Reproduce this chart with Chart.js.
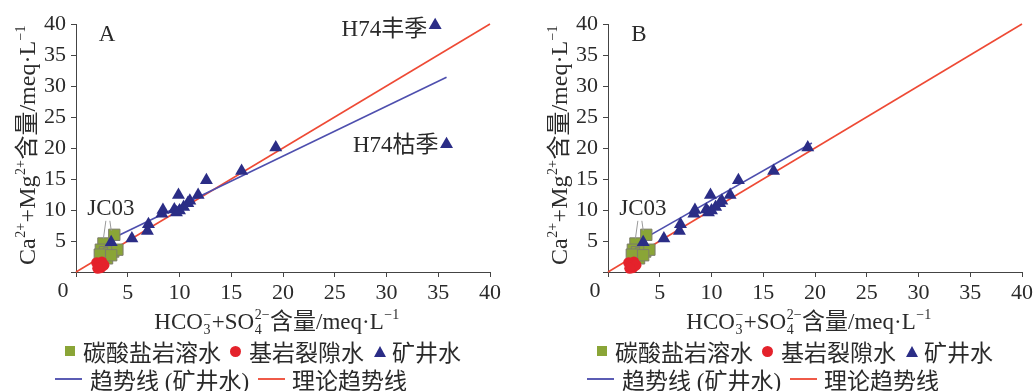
<!DOCTYPE html>
<html>
<head>
<meta charset="utf-8">
<script src="https://cdn.jsdelivr.net/npm/chart.js@4.4.1/dist/chart.umd.min.js"></script>
<style>
  html, body { margin:0; padding:0; background:#fff; }
  body { width:1036px; height:391px; overflow:hidden; position:relative; }
  .panel { position:absolute; top:0; width:520px; height:391px; }
  .panel canvas { position:absolute; left:0; top:0; }
  .row { position:absolute; display:flex; align-items:center; white-space:nowrap;
         font-family:"Liberation Serif","Noto Sans CJK SC",serif; font-size:23px; color:#2a2a2a; height:26px; }
  .sq { width:10px; height:10px; background:#8aa537; display:inline-block; }
  .ci { width:11px; height:11px; border-radius:50%; background:#e4222b; display:inline-block; }
  .tr { width:0; height:0; border-left:6px solid transparent; border-right:6px solid transparent; border-bottom:11px solid #2b2d86; display:inline-block; }
  .ln { width:27px; height:2px; display:inline-block; }
  .cjk { font-family:"Noto Sans CJK SC",sans-serif; }
</style>
</head>
<body>
<div class="panel" id="pA" style="left:0px;">
  <canvas id="cA" width="520" height="340"></canvas>
  <div class="row" style="left:65px; top:338px;">
    <span class="sq"></span><span class="cjk" style="margin-left:8px;">碳酸盐岩溶水</span>
    <span class="ci" style="margin-left:9px;"></span><span class="cjk" style="margin-left:8px;">基岩裂隙水</span>
    <span class="tr" style="margin-left:10px;"></span><span class="cjk" style="margin-left:6px;">矿井水</span>
  </div>
  <div class="row" style="left:55px; top:366px;">
    <span class="ln" style="background:#5b5cb4;"></span><span style="margin-left:8px;"><span class="cjk">趋势线</span> (<span class="cjk">矿井水</span>)</span>
    <span class="ln" style="background:#ef5a48; margin-left:9px;"></span><span class="cjk" style="margin-left:7px;">理论趋势线</span>
  </div>
</div>
<div class="panel" id="pB" style="left:532px;">
  <canvas id="cB" width="520" height="340"></canvas>
  <div class="row" style="left:65px; top:338px;">
    <span class="sq"></span><span class="cjk" style="margin-left:8px;">碳酸盐岩溶水</span>
    <span class="ci" style="margin-left:9px;"></span><span class="cjk" style="margin-left:8px;">基岩裂隙水</span>
    <span class="tr" style="margin-left:10px;"></span><span class="cjk" style="margin-left:6px;">矿井水</span>
  </div>
  <div class="row" style="left:55px; top:366px;">
    <span class="ln" style="background:#5b5cb4;"></span><span style="margin-left:8px;"><span class="cjk">趋势线</span> (<span class="cjk">矿井水</span>)</span>
    <span class="ln" style="background:#ef5a48; margin-left:9px;"></span><span class="cjk" style="margin-left:7px;">理论趋势线</span>
  </div>
</div>
<script>
// ---------- data ----------
const tickValues = [0, 5, 10, 15, 20, 25, 30, 35, 40];
// carbonate karst water (first two = JC03)
const carbX = [2.65, 3.7, 2.4, 2.8, 3.2, 3.6, 4.0, 2.6, 3.0, 2.3, 3.4];
const carbY = [4.6, 6.0, 3.6, 3.2, 3.0, 3.3, 3.6, 2.4, 2.2, 2.8, 2.7];
// bedrock fissure water
const bedX = [2.0, 2.5, 2.2, 2.4, 2.7, 2.1];
const bedY = [1.5, 1.6, 1.0, 0.7, 1.1, 0.6];
// mine water
const mineX = [3.4, 5.4, 6.9, 7.0, 8.3, 8.4, 9.5, 9.7, 9.9, 10.0, 10.4, 10.8, 11.0, 11.8, 12.6, 16.0, 19.3];
const mineY = [4.8, 5.4, 6.6, 7.7, 9.4, 10.0, 10.1, 9.6, 12.4, 9.9, 10.5, 11.1, 11.5, 12.4, 14.8, 16.3, 20.1];
// H74 (panel A only)
const h74Labels = ["H74丰季", "H74枯季"];
const h74X = [34.7, 35.8];
const h74Y = [39.8, 20.6];
// trend lines
const trendAX = [3.5, 35.8], trendAY = [5.4, 31.4];
const trendBX = [3.4, 19.7], trendBY = [5.3, 20.8];
const theoryX = [0, 40], theoryY = [0, 40];
// axis titles (rich text segments)
const xTitle = [{t:'HCO'}, {sub:'3', sup:'−'}, {t:'+SO'}, {sub:'4', sup:'2−'}, {t:'含量/meq·L'}, {sup:'−1'}];
const yTitle = [{t:'Ca'}, {sup:'2+'}, {t:'+Mg'}, {sup:'2+'}, {t:'含量/meq·L'}, {sup:'−1'}];

// ---------- helpers ----------
const zip = (xs, ys) => xs.map((x, i) => ({x, y: ys[i]}));
const FONT = '"Liberation Serif","Noto Sans CJK SC",serif';
const TXT = '#2a2a2a';

function drawRich(ctx, segs, cx, cy, size, rotate) {
  const small = Math.round(size * 0.6);
  const mainF = size + 'px ' + FONT, smallF = small + 'px ' + FONT;
  const widths = segs.map(s => {
    if (s.t) { ctx.font = mainF; return ctx.measureText(s.t).width; }
    ctx.font = smallF;
    return Math.max(s.sup ? ctx.measureText(s.sup).width : 0, s.sub ? ctx.measureText(s.sub).width : 0) + 1;
  });
  const total = widths.reduce((a, b) => a + b, 0);
  ctx.save();
  ctx.translate(cx, cy);
  if (rotate) ctx.rotate(-Math.PI / 2);
  ctx.fillStyle = TXT; ctx.textAlign = 'left'; ctx.textBaseline = 'alphabetic';
  let x = -total / 2;
  const base = size * 0.33;
  segs.forEach((s, i) => {
    if (s.t) { ctx.font = mainF; ctx.fillText(s.t, x, base); }
    else {
      ctx.font = smallF;
      if (s.sup) ctx.fillText(s.sup, x + 0.5, base - size * 0.42);
      if (s.sub) ctx.fillText(s.sub, x + 0.5, base + size * 0.22);
    }
    x += widths[i];
  });
  ctx.restore();
}

function makeChart(id, panelLabel, withH74) {
  const mine = zip(mineX, mineY).concat(withH74 ? zip(h74X, h74Y) : []);
  const trend = withH74 ? zip(trendAX, trendAY) : zip(trendBX, trendBY);
  const annot = {
    id: 'annot',
    afterDraw(chart) {
      const ctx = chart.ctx, xs = chart.scales.x, ys = chart.scales.y, ca = chart.chartArea;
      ctx.save();
      ctx.fillStyle = TXT;
      // panel letter
      ctx.font = '23px ' + FONT;
      ctx.textAlign = 'center'; ctx.textBaseline = 'middle';
      ctx.fillText(panelLabel, ca.left + 31, ca.top + 11);
      // shared origin label
      ctx.font = '22px ' + FONT;
      ctx.fillText(String(tickValues[0]), ca.left - 13, ca.bottom + 19);
      // JC03 label and leaders
      const ax = xs.getPixelForValue(carbX[0]), ay = ys.getPixelForValue(carbY[0]);
      const bx = xs.getPixelForValue(carbX[1]), by = ys.getPixelForValue(carbY[1]);
      const tx = (ax + bx) / 2 + 2, ty = Math.min(ay, by) - 26;
      ctx.font = '23px ' + FONT;
      ctx.fillText('JC03', tx, ty);
      ctx.strokeStyle = '#9a9a9a'; ctx.lineWidth = 1;
      ctx.beginPath();
      ctx.moveTo(tx - 5, ty + 12); ctx.lineTo(ax, ay - 5);
      ctx.moveTo(tx - 1, ty + 12); ctx.lineTo(bx - 3, by - 4);
      ctx.stroke();
      // H74 labels
      if (withH74) {
        ctx.textAlign = 'right';
        const dy = [5, 2];
        h74Labels.forEach((t, i) => {
          const px = xs.getPixelForValue(h74X[i]), py = ys.getPixelForValue(h74Y[i]);
          ctx.fillText(t, px - 8, py + dy[i]);
        });
      }
      ctx.restore();
      // axis titles
      drawRich(ctx, xTitle, ca.left + ca.width / 2 - 6, ca.bottom + 49, 23, false);
      drawRich(ctx, yTitle, 27, ca.top + ca.height / 2 - 3, 24, true);
    }
  };
  return new Chart(document.getElementById(id), {
    type: 'scatter',
    data: {
      datasets: [
        { label: '矿井水', data: mine, pointStyle: 'triangle', pointRadius: 7.5, pointHoverRadius: 7.5,
          backgroundColor: '#2b2d86', borderColor: '#2b2d86', borderWidth: 0, order: 0, clip: false },
        { label: '基岩裂隙水', data: zip(bedX, bedY), pointStyle: 'circle', pointRadius: 5.5, pointHoverRadius: 5.5,
          backgroundColor: '#e4222b', borderColor: '#e4222b', borderWidth: 0, order: 1, clip: false },
        { label: '碳酸盐岩溶水', data: zip(carbX, carbY), pointStyle: 'rect', pointRadius: 8, pointHoverRadius: 8,
          backgroundColor: '#8aa537', borderColor: '#7d7d6a', borderWidth: 1, order: 2, clip: false },
        { type: 'line', label: '趋势线 (矿井水)', data: trend, showLine: true, pointRadius: 0,
          borderColor: '#4e4fae', borderWidth: 1.6, fill: false, order: 3 },
        { type: 'line', label: '理论趋势线', data: zip(theoryX, theoryY), showLine: true, pointRadius: 0,
          borderColor: '#ee4a35', borderWidth: 1.6, fill: false, order: 4, clip: false }
      ]
    },
    options: {
      responsive: false, animation: false, devicePixelRatio: 1,
      layout: { padding: { left: 0, right: 30, top: 24, bottom: 0 } },
      plugins: { legend: { display: false }, tooltip: { enabled: false } },
      scales: {
        x: {
          type: 'linear', min: 0, max: 40,
          afterBuildTicks: s => { s.ticks = tickValues.map(v => ({value: v})); },
          afterFit: s => { s.height = 68; },
          grid: { drawOnChartArea: false, drawTicks: true, tickLength: 5, color: '#444' },
          border: { display: true, color: '#444', width: 1 },
          ticks: { font: { family: FONT, size: 22 }, color: TXT, padding: 3, maxRotation: 0,
                   callback: v => v === 0 ? '' : String(v) },
          title: { display: false }
        },
        y: {
          type: 'linear', min: 0, max: 40,
          afterBuildTicks: s => { s.ticks = tickValues.map(v => ({value: v})); },
          afterFit: s => { s.width = 76; },
          grid: { drawOnChartArea: false, drawTicks: true, tickLength: 5, color: '#444' },
          border: { display: true, color: '#444', width: 1 },
          ticks: { font: { family: FONT, size: 22 }, color: TXT, padding: 5,
                   callback: v => v === 0 ? '' : String(v) },
          title: { display: false }
        }
      }
    },
    plugins: [annot]
  });
}
makeChart('cA', 'A', true);
makeChart('cB', 'B', false);
</script>
</body>
</html>
